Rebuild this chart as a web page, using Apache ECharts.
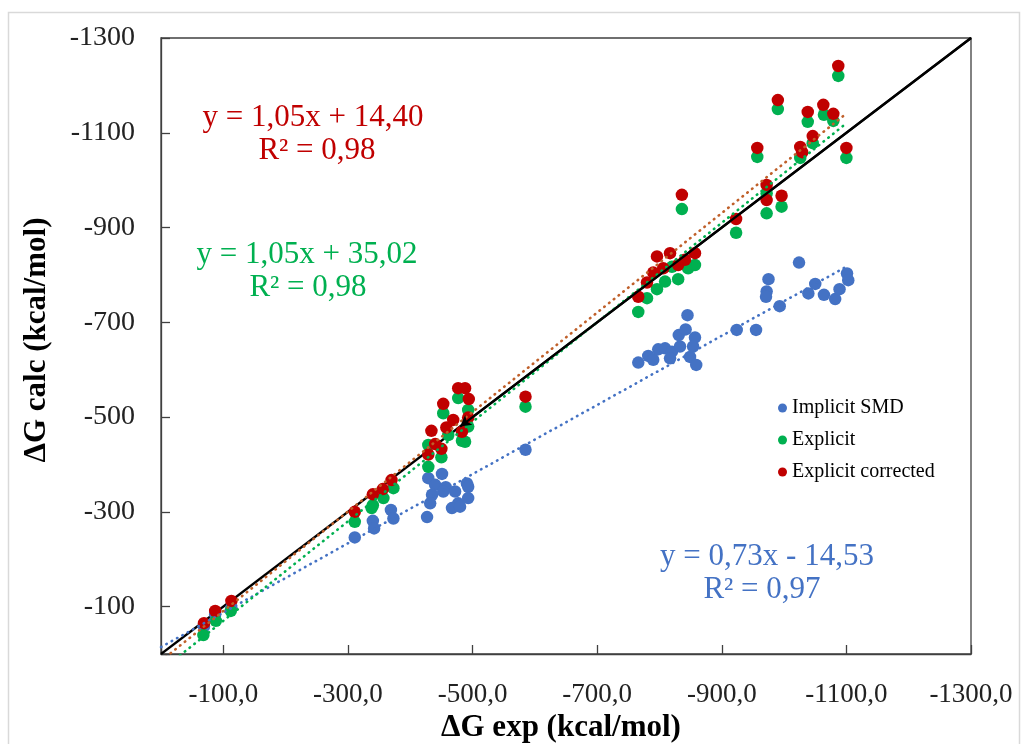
<!DOCTYPE html>
<html><head><meta charset="utf-8">
<script src="https://cdn.jsdelivr.net/npm/echarts@6/dist/echarts.min.js"></script>
<style>html,body{margin:0;padding:0;background:#fff}#c{width:1024px;height:744px}</style>
</head><body><div id="c"></div>
<script>
// ---- data (kcal/mol) ----
const implicitSMD = [[-69,-58],[-87,-84],[-113,-98],[-311,-246],[-340,-281],[-342,-265],[-369,-304],[-373,-286],[-429,-371],[-440,-357],[-435,-336],[-432,-318],[-427,-289],[-451,-380],[-457,-352],[-453,-343],[-472,-343],[-491,-360],[-493,-353],[-493,-329],[-477,-318],[-467,-308],[-480,-311],[-585,-431],[-766,-615],[-782,-629],[-790,-621],[-798,-643],[-809,-645],[-820,-638],[-817,-624],[-833,-649],[-831,-673],[-842,-685],[-845,-715],[-857,-668],[-854,-649],[-849,-627],[-859,-610],[-924,-684],[-955,-684],[-975,-791],[-972,-765],[-971,-754],[-993,-734],[-1024,-826],[-1039,-761],[-1050,-781],[-1064,-758],[-1082,-749],[-1089,-770],[-1101,-803],[-1103,-789]];
const explicit = [[-68,-40],[-88,-70],[-112,-91],[-311,-279],[-340,-314],[-338,-308],[-357,-329],[-373,-350],[-429,-395],[-429,-441],[-450,-415],[-453,-508],[-477,-540],[-493,-515],[-461,-462],[-483,-450],[-488,-448],[-493,-480],[-585,-522],[-766,-722],[-780,-751],[-796,-770],[-809,-786],[-830,-791],[-820,-817],[-846,-814],[-857,-821],[-836,-939],[-923,-889],[-972,-930],[-972,-972],[-996,-944],[-957,-1049],[-990,-1150],[-1026,-1047],[-1046,-1078],[-1038,-1123],[-1064,-1138],[-1079,-1125],[-1087,-1220],[-1100,-1047]];
const explicitCorrected = [[-69,-65],[-87,-91],[-113,-112],[-311,-300],[-340,-337],[-356,-348],[-370,-367],[-429,-421],[-434,-471],[-440,-443],[-450,-433],[-453,-528],[-458,-478],[-469,-494],[-477,-561],[-488,-561],[-494,-538],[-493,-499],[-483,-469],[-585,-543],[-766,-754],[-780,-784],[-790,-805],[-796,-839],[-806,-814],[-817,-846],[-830,-821],[-841,-832],[-857,-846],[-836,-969],[-923,-918],[-972,-990],[-972,-958],[-996,-967],[-957,-1068],[-990,-1169],[-1026,-1070],[-1029,-1059],[-1046,-1093],[-1038,-1144],[-1063,-1159],[-1079,-1140],[-1087,-1241],[-1100,-1068]];
const seriesNames = ['Implicit SMD','Explicit','Explicit corrected'];
// trendlines: slope, intercept, x range
const trendImplicit = {slope:0.73, intercept:-14.53};
const trendExplicit = {slope:1.05, intercept:35.02};
const trendCorrected = {slope:1.05, intercept:14.40};
const trendXRange = [0, -1100];
const eqImplicit = ['y = 0,73x - 14,53','R² = 0,97'];
const eqExplicit = ['y = 1,05x + 35,02','R² = 0,98'];
const eqCorrected = ['y = 1,05x + 14,40','R² = 0,98'];
const axisMin = -1300, axisMax = 0, axisStep = 200;
const xTitle = 'ΔG exp (kcal/mol)', yTitle = 'ΔG calc (kcal/mol)';

const F = '"Liberation Serif", "Times New Roman", serif';
const cBlue = '#4472C4', cGreen = '#00B050', cRed = '#C00000', cTrendRed = '#C0602A';
function trend(t){ return trendXRange.map(x => [x, t.slope*x + t.intercept]); }
function dotted(color){ return {color, width:2.6, type:[0.5,5.6], cap:'round'}; }

const chart = echarts.init(document.getElementById('c'), null, {renderer:'canvas'});
const axisCommon = {
  type:'value', min:axisMin, max:axisMax, interval:axisStep, inverse:true,
  splitLine:{show:false},
  axisLine:{show:true, onZero:false, lineStyle:{color:'#404040', width:1.3}},
  axisTick:{show:true, inside:true, length:9, lineStyle:{color:'#404040', width:1.3}},
};
const eqFont = '31px ' + F;
chart.setOption({
  animation:false,
  backgroundColor:'#fff',
  grid:{left:161, right:53, top:38, bottom:90, show:true, borderColor:'#404040', borderWidth:1.3, containLabel:false},
  xAxis:Object.assign({}, axisCommon, {
    axisLabel:{margin:27, fontFamily:F, fontSize:27, color:'#222',
      formatter:v => v === 0 ? '' : v.toFixed(1).replace('.', ',')}
  }),
  yAxis:Object.assign({}, axisCommon, {
    axisLabel:{margin:26, fontFamily:F, fontSize:28, color:'#222',
      formatter:v => v === 0 ? '' : String(v)}
  }),
  legend:{
    data:seriesNames, orient:'vertical', left:773, top:393, icon:'circle',
    itemWidth:9, itemHeight:9, itemGap:12, textStyle:{fontFamily:F, fontSize:20, color:'#000', padding:[0,0,0,0]}
  },
  series:[
    {type:'line', data:[[0,0],[axisMin,axisMin]], symbol:'none', silent:true, z:1,
     lineStyle:{color:'#000', width:2.2}},
    {name:seriesNames[0], type:'scatter', data:implicitSMD, symbolSize:12.5, itemStyle:{color:cBlue, opacity:1}, z:2},
    {name:seriesNames[1], type:'scatter', data:explicit, symbolSize:12.5, itemStyle:{color:cGreen, opacity:1}, z:3},
    {name:seriesNames[2], type:'scatter', data:explicitCorrected, symbolSize:12.5, itemStyle:{color:cRed, opacity:1}, z:4},
    {type:'line', data:trend(trendImplicit), symbol:'none', silent:true, z:5, clip:true, lineStyle:dotted(cBlue)},
    {type:'line', data:trend(trendExplicit), symbol:'none', silent:true, z:5, clip:true, lineStyle:dotted(cGreen)},
    {type:'line', data:trend(trendCorrected), symbol:'none', silent:true, z:5, clip:true, lineStyle:dotted(cTrendRed),
     markLine:{silent:true, symbol:['arrow','none'], symbolSize:[9,11], label:{show:false},
       lineStyle:{color:'#000', width:2.2, type:'solid'}, z:6,
       data:[[{coord:[-480,-480]},{coord:[axisMin,axisMin]}]]}}
  ],
  graphic:[
    {type:'rect', shape:{x:8.5, y:12.5, width:1011, height:760}, style:{fill:null, stroke:'#D9D9D9', lineWidth:1.5}, z:-1, silent:true},
    {type:'text', x:313, y:118, style:{text:eqCorrected[0], fill:cRed, font:eqFont, textAlign:'center', textVerticalAlign:'middle'}},
    {type:'text', x:317, y:151, style:{text:eqCorrected[1], fill:cRed, font:eqFont, textAlign:'center', textVerticalAlign:'middle'}},
    {type:'text', x:307, y:255, style:{text:eqExplicit[0], fill:cGreen, font:eqFont, textAlign:'center', textVerticalAlign:'middle'}},
    {type:'text', x:308, y:288, style:{text:eqExplicit[1], fill:cGreen, font:eqFont, textAlign:'center', textVerticalAlign:'middle'}},
    {type:'text', x:767, y:557, style:{text:eqImplicit[0], fill:cBlue, font:eqFont, textAlign:'center', textVerticalAlign:'middle'}},
    {type:'text', x:762, y:590, style:{text:eqImplicit[1], fill:cBlue, font:eqFont, textAlign:'center', textVerticalAlign:'middle'}},
    {type:'text', x:561, y:728, style:{text:xTitle, fill:'#000', font:'bold 31px '+F, textAlign:'center', textVerticalAlign:'middle'}},
    {type:'text', x:37, y:340, rotation:Math.PI/2, style:{text:yTitle, fill:'#000', font:'bold 31px '+F, textAlign:'center', textVerticalAlign:'middle'}}
  ]
});
</script></body></html>
